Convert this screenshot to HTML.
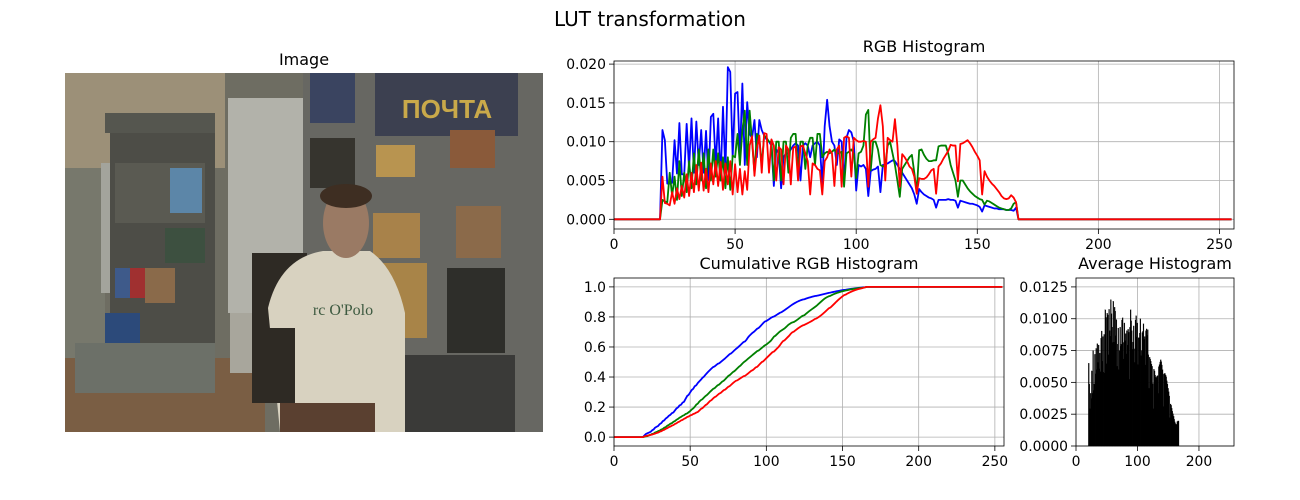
<!DOCTYPE html>
<html><head><meta charset="utf-8"><style>
html,body{margin:0;padding:0;background:#fff}
svg{display:block;font-family:"DejaVu Sans","Liberation Sans",sans-serif}
</style></head><body>
<svg id="fig" width="1300" height="500" viewBox="0 0 1300 500" xmlns="http://www.w3.org/2000/svg">
<text x="650" y="26" font-size="20" text-anchor="middle">LUT transformation</text>
<text x="304" y="65" font-size="16" text-anchor="middle">Image</text>
<g transform="translate(65,73)">
  <rect x="0" y="0" width="478" height="359" fill="#6e6d62"/>
  <rect x="0" y="0" width="160" height="95" fill="#9c9078"/>
  <rect x="0" y="95" width="40" height="200" fill="#77786c"/>
  <rect x="36" y="90" width="16" height="130" fill="#a3a49c"/>
  <rect x="40" y="40" width="110" height="20" fill="#55564f"/>
  <rect x="45" y="60" width="105" height="240" fill="#4d4d47"/>
  <rect x="50" y="90" width="90" height="60" fill="#5a5a52"/>
  <rect x="105" y="95" width="32" height="45" fill="#5c86a8"/>
  <rect x="50" y="195" width="25" height="30" fill="#3e5a8a"/>
  <rect x="65" y="195" width="15" height="30" fill="#a03030"/>
  <rect x="80" y="195" width="30" height="35" fill="#8a6a4a"/>
  <rect x="100" y="155" width="40" height="35" fill="#3d5040"/>
  <rect x="40" y="240" width="35" height="40" fill="#2c4a7a"/>
  <rect x="0" y="285" width="200" height="74" fill="#7a5e44"/>
  <rect x="10" y="270" width="140" height="50" fill="#6c7068"/>
  <rect x="163" y="25" width="75" height="215" fill="#b2b2aa"/>
  <rect x="165" y="240" width="50" height="60" fill="#a8a69c"/>
  <rect x="238" y="0" width="240" height="359" fill="#676762"/>
  <rect x="245" y="0" width="45" height="50" fill="#3a4460"/>
  <rect x="245" y="65" width="45" height="50" fill="#36342e"/>
  <rect x="310" y="0" width="143" height="63" fill="#3c4050"/>
  <text x="382" y="45" font-size="26" font-weight="bold" fill="#c9a94a" text-anchor="middle" font-family="Liberation Sans, DejaVu Sans, sans-serif">ПОЧТА</text>
  <rect x="385" y="57" width="45" height="38" fill="#8a5a3a"/>
  <rect x="311" y="72" width="39" height="32" fill="#b89450"/>
  <rect x="308" y="140" width="47" height="45" fill="#a8824a"/>
  <rect x="315" y="190" width="47" height="75" fill="#a88448"/>
  <rect x="391" y="133" width="45" height="52" fill="#8b6a4a"/>
  <rect x="382" y="195" width="58" height="85" fill="#2e2e2a"/>
  <rect x="340" y="282" width="110" height="77" fill="#3a3a38"/>
  <rect x="187" y="180" width="55" height="150" fill="#2e2a24"/>
  <path d="M203 235 Q215 185 258 178 L305 178 Q330 195 340 240 L340 359 L215 359 Z" fill="#d8d2c0"/>
  <rect x="215" y="330" width="95" height="29" fill="#5a4030"/>
  <rect x="190" y="255" width="40" height="75" fill="#2e2a24"/>
  <ellipse cx="281" cy="150" rx="23" ry="35" fill="#9a7a64"/>
  <ellipse cx="281" cy="123" rx="26" ry="12" fill="#3e2e22"/>
  <text x="278" y="242" font-size="16" fill="#3d5a40" text-anchor="middle" font-family="Liberation Serif, serif">rc O'Polo</text>
</g>
<g id="rgb"></g>
<g id="cum"></g>
<g id="avg"></g>
</svg>
<script>
const binStart = 19;
const redVals = [0,5.5,2.1,2,1.8,3.5,2,4,2.6,4.3,2.8,5.8,3,6,3.5,7,3.7,7.3,3.7,6.5,3.5,7.2,4.5,7.5,4.3,7.4,3.8,7.2,4.5,7.5,3.2,7.1,3.5,6.5,3.2,6.2,3.8,9.5,10.7,5.6,9,10.8,6,11.1,11,6,10.3,9.5,5,9.3,9,4.5,9.5,9,4.5,9.2,9.4,5,9.4,9.5,8.5,7.5,3.2,7.2,7,6.5,6.3,3.2,7.5,8,9,8.5,4.3,9,9.5,4.2,10.5,10.7,10.5,5.5,10.5,10.2,10,10,10.1,10,4.2,10,10.3,10.5,13,14.7,12,5,10.5,10.2,10,12.9,9.5,4.2,8.4,8,7.5,6.8,6.5,5.5,3.3,5.3,5.2,5.2,5.4,5.8,6.3,6.5,3.3,6.8,7.2,7.8,8.3,8.8,9.6,9.5,9.5,4.9,9.7,9.8,10,10.2,9.8,9.3,8.7,8.2,7.6,3.2,6.2,5.5,5,4.6,4.3,3.9,3.5,3,2.7,2.6,2.7,3.1,2.8,2.2,0];
const greenVals = [0,2.5,2.3,2.2,6,3,5.5,2.5,7.5,3,6,3.5,7.5,4,8.5,4.5,9,5,8.5,4,9,5,9,5.5,8.5,5,8,4,8,3.8,8.2,8,11,7,11.5,14,7,14,10,6,11,10.5,7,10.8,10.5,10,10,5,10,10,5,10,10,6,10.5,11,11,6,10,10,6.5,9.5,10.5,10.5,7,11,11,8,8.5,8.7,8.5,8.7,9,8.5,8.5,8.7,4.2,8.5,8.7,9,8.5,5.3,8.5,8.7,9.5,13.5,14.1,6.3,10,10,9,7,6.8,7,9.5,10,8.5,7,5,2.9,6.5,7,7.5,8,8.3,6,3.5,8.9,9,8.3,7.8,7.5,7.5,7.6,7.6,9.4,9.5,9.5,9.5,8.5,7,6,5,2.9,5,5,4.5,4,3.6,3.3,3,2.8,2.6,2.5,1.9,2.4,2.3,2.1,1.9,1.7,1.5,1.4,1.3,1.2,1.2,1.4,2,2.2,0];
const blueVals = [0,11.5,10.2,4.6,4.6,4.7,10.2,5.9,12.4,5.8,5.8,12.3,6.5,13,6,12.6,7,11.5,6,11.4,5,13.2,13.6,7,13,5,14.5,6,19.6,19,8,16.2,16.4,8,17.5,7,15.1,11,10.5,12.8,8,12.8,11.5,10.8,10.3,10,9.5,4.3,9,8.5,4,8,8.5,8.5,9,9.5,9.8,9.5,5,9.5,9.8,9.5,8,9.5,9.8,10,9.5,4.5,12,15.4,12,10,9.5,7,10.3,10,5,10.5,11.5,11.2,10,3.7,7,6.8,7,6.5,3,6.2,6.4,6.5,6.8,3.5,7,7.1,7.2,7.4,7.6,7.5,7,6.5,6,5.5,5,4.5,4,3.2,2,3.9,3.5,3.2,3,2.8,2.7,2.5,1.5,2.5,2.5,2.5,2.5,2.6,2.5,2.5,2.4,1.5,2.4,2.3,2.2,2.1,2,2,1.9,1.8,1.6,1,1.8,1.7,1.6,1.5,1.4,1.4,1.3,1.3,1.3,1.2,1.2,1.2,1.1,1.5,0];
const rgbYTicks = ["0.000","0.005","0.010","0.015","0.020"];
const cumYTicks = ["0.0","0.2","0.4","0.6","0.8","1.0"];
const avgYTicks = ["0.0000","0.0025","0.0050","0.0075","0.0100","0.0125"];
const xTicks = [0,50,100,150,200,250];
const avgXTicks = [0,100,200];

const NS = "http://www.w3.org/2000/svg";
function mk(parent, tag, attrs){const e=document.createElementNS(NS,tag);for(const k in attrs)e.setAttribute(k,attrs[k]);parent.appendChild(e);return e;}
function full(arr){const o=new Array(256).fill(0);arr.forEach((v,i)=>{o[binStart+i]=v/1000;});return o;}
const R=full(redVals),G=full(greenVals),B=full(blueVals);

function axes(g,box,xmin,xmax,ymin,ymax,yt,xt,name){
  const sx=v=>box.x0+(v-xmin)/(xmax-xmin)*(box.x1-box.x0);
  const sy=v=>box.y1-(v-ymin)/(ymax-ymin)*(box.y1-box.y0);
  const grid=mk(g,'g',{});
  
  
  xt.forEach(v=>{const x=sx(v);
    mk(grid,'line',{x1:x,x2:x,y1:box.y0,y2:box.y1,stroke:'#b0b0b0','stroke-width':0.8});
    mk(g,'line',{x1:x,x2:x,y1:box.y1,y2:box.y1+5,stroke:'#000','stroke-width':0.8});
    const t=mk(g,'text',{x:x,y:box.y1+20,'font-size':13.9,'text-anchor':'middle'});t.textContent=v;
    
    });
  yt.forEach(s=>{const y=sy(parseFloat(s));
    mk(grid,'line',{x1:box.x0,x2:box.x1,y1:y,y2:y,stroke:'#b0b0b0','stroke-width':0.8});
    mk(g,'line',{x1:box.x0-5,x2:box.x0,y1:y,y2:y,stroke:'#000','stroke-width':0.8});
    const t=mk(g,'text',{x:box.x0-8,y:y+5,'font-size':13.9,'text-anchor':'end'});t.textContent=s;
    
    });
  return {sx,sy};
}
function frame(g,box){mk(g,'rect',{x:box.x0,y:box.y0,width:box.x1-box.x0,height:box.y1-box.y0,fill:'none',stroke:'#000','stroke-width':0.8});}
function line(g,data,s,color,name){
  const d=data.map((v,i)=>(i?'L':'M')+s.sx(i).toFixed(2)+' '+s.sy(v).toFixed(2)).join(' ');
  const p=mk(g,'path',{d:d,fill:'none',stroke:color,'stroke-width':1.8,'stroke-linejoin':'round'});
  
  
}
function title(g,x,y,txt,name){const t=mk(g,'text',{x:x,y:y,'font-size':16,'text-anchor':'middle'});t.textContent=txt;
  
  }

(function(){const g=document.getElementById('rgb');const box={x0:614,x1:1234,y0:61,y1:229};
  const s=axes(g,box,0,256,-0.00125,0.0204,rgbYTicks,xTicks,'rgb');
  line(g,B,s,'#0000ff','blue-series');line(g,G,s,'#008000','green-series');line(g,R,s,'#ff0000','red-series');
  frame(g,box);title(g,924,52,'RGB Histogram','rgb-title');})();
(function(){const g=document.getElementById('cum');const box={x0:614,x1:1004,y0:278,y1:446};
  const s=axes(g,box,0,256,-0.0592,1.0592,cumYTicks,xTicks,'cum');
  const cs=a=>{const t=a.reduce((p,c)=>p+c,0);let c=0;return a.map(v=>(c+=v)/t);};
  line(g,cs(B),s,'#0000ff','cum-blue-series');line(g,cs(G),s,'#008000','cum-green-series');line(g,cs(R),s,'#ff0000','cum-red-series');
  frame(g,box);title(g,809,269,'Cumulative RGB Histogram','cum-title');})();
(function(){const g=document.getElementById('avg');const box={x0:1076,x1:1234,y0:278,y1:446};
  const s=axes(g,box,0,257,0,0.0132,avgYTicks,avgXTicks,'avg');
  const bars=mk(g,'g',{});
  
  
  for(let i=0;i<256;i++){const v=(R[i]+G[i]+B[i])/3;if(v<=0)continue;
    const x0=s.sx(i),x1=s.sx(i+1),y=s.sy(v);
    const r=mk(bars,'rect',{x:x0,y:y,width:(x1-x0)+0.35,height:box.y1-y,fill:'#000',stroke:'#000','stroke-width':0.2});
    
    }
  frame(g,box);title(g,1155,269,'Average Histogram','avg-title');})();
</script>
</body></html>
